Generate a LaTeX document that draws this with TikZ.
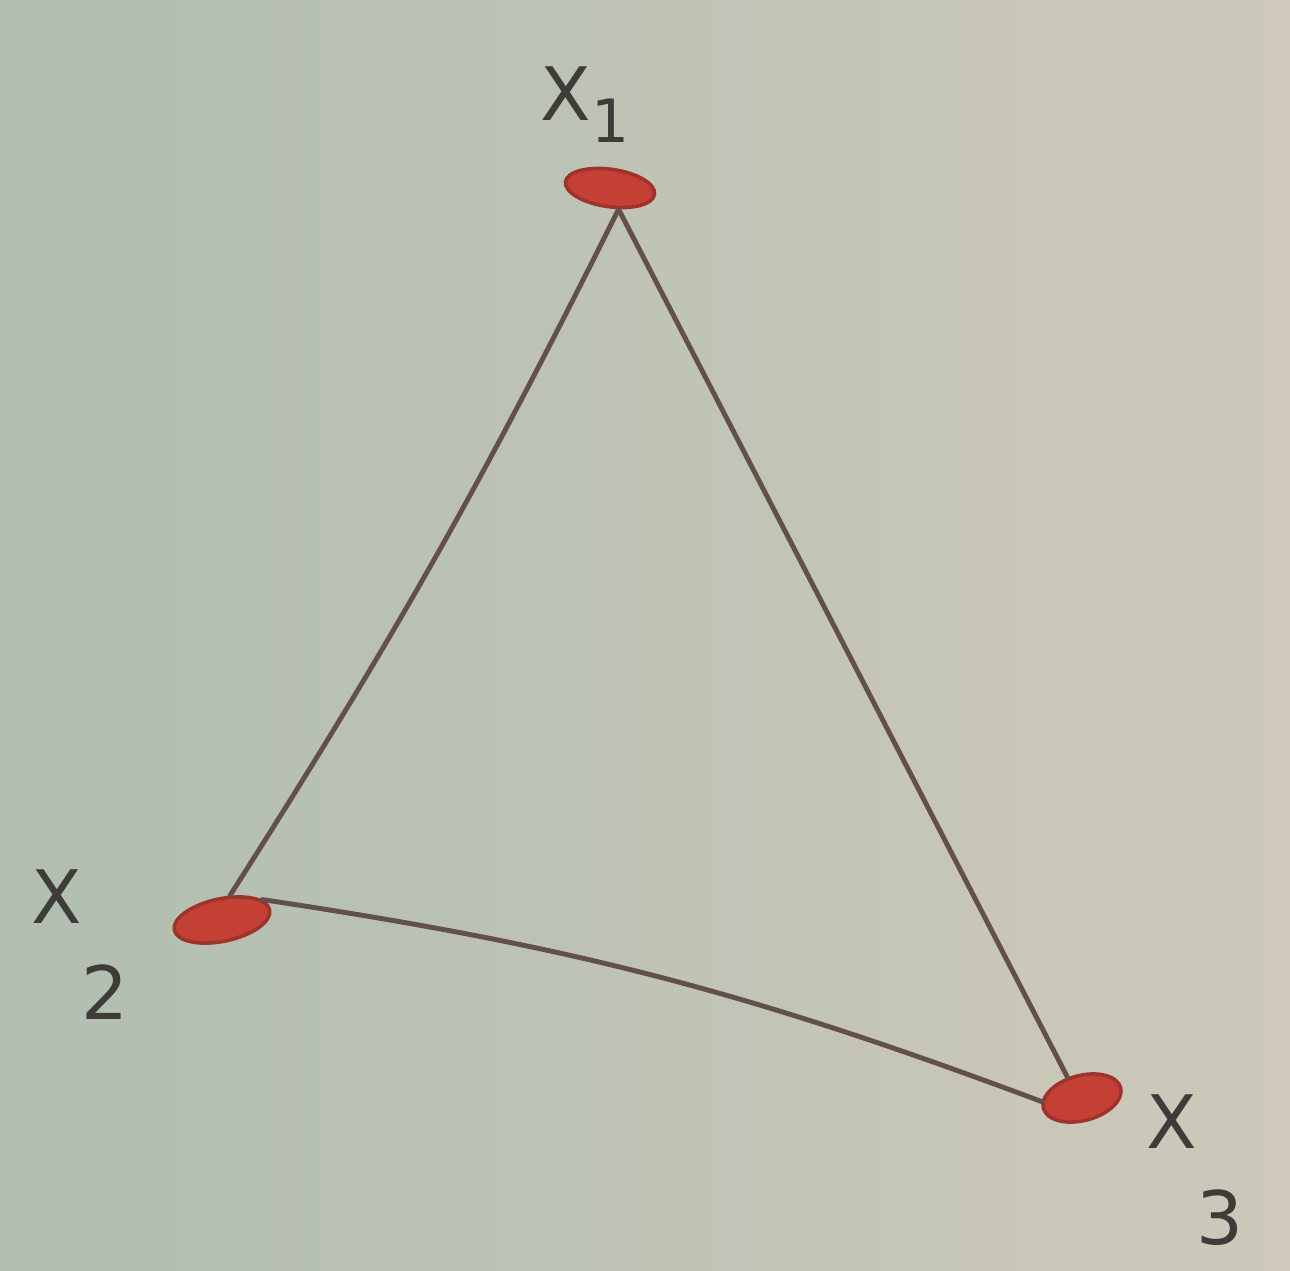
\documentclass[tikz,border=0pt]{standalone}
\usepackage{fontspec}
\setmainfont{DejaVu Sans}
\usetikzlibrary{shapes.geometric}
\definecolor{paperL}{RGB}{176,190,176}
\definecolor{paperR}{RGB}{206,201,186}
\definecolor{ink}{RGB}{100,80,74}
\definecolor{blobred}{RGB}{196,64,52}
\definecolor{pen}{RGB}{62,60,56}
\tikzset{
  blob/.style={ellipse, draw=blobred!80!black, fill=blobred, line width=2pt, inner sep=0pt},
  edge/.style={draw=ink, line width=2.8pt, line cap=round},
  lab/.style={text=pen, font=\fontsize{42}{42}\selectfont, inner sep=0pt}
}
\begin{document}
\begin{tikzpicture}[x=0.02cm,y=-0.02cm]
\shade[left color=paperL, right color=paperR] (0,0) rectangle (1290,1270);
\useasboundingbox (0,0) rectangle (1290,1270);
\node[blob, minimum width=1.8cm, minimum height=0.75cm, rotate=-8] (v1) at (610,188) {};
\node[blob, minimum width=1.95cm, minimum height=0.85cm, rotate=12] (v2) at (222,920) {};
\node[blob, minimum width=1.6cm, minimum height=0.9cm, rotate=15] (v3) at (1082,1098) {};
\draw[edge] (v1.-60) to[bend left=3] (v2.60);
\draw[edge] (v1.-60) -- (v3.110);
\draw[edge] (v2.15) to[bend left=6] (v3.170);
\node[lab] (l1) at (585,105) {X\raisebox{-0.3em}{\fontsize{34}{34}\selectfont 1}};
\node[lab] (l2) at (80,945) {X\raisebox{-1.3em}{2}};
\node[lab] (l3) at (1195,1170) {X\raisebox{-1.3em}{3}};
\end{tikzpicture}
\end{document}
